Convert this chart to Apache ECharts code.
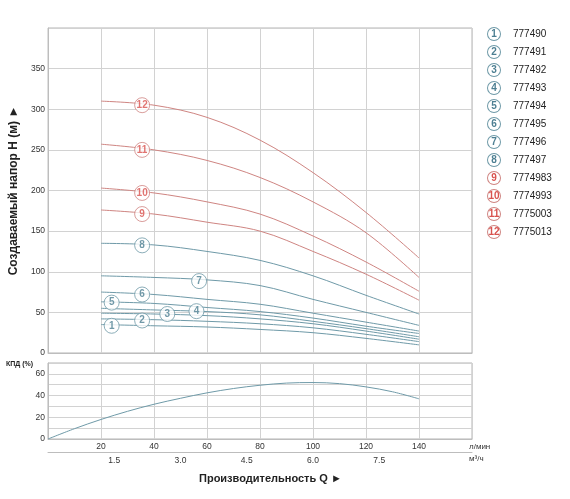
<!DOCTYPE html>
<html>
<head>
<meta charset="utf-8">
<script src="https://cdn.jsdelivr.net/npm/echarts@6/dist/echarts.min.js"></script>
<style>
html,body{margin:0;padding:0;background:#fff;}
#chart{width:570px;height:499px;}
</style>
</head>
<body>
<div id="chart"></div>
<script>
// ---- data ----
const flowPoints = [20, 40, 60, 80, 100, 120, 140];
const pumpCodes = ['777490','777491','777492','777493','777494','777495','777496','777497','7774983','7774993','7775003','7775013'];
const head1  = [35, 33.5, 32, 29, 25, 18, 10];
const head2  = [42, 41, 39, 36, 31, 23, 14];
const head3  = [49, 48, 46, 42, 36, 27, 17];
const head4  = [55, 53, 51, 47, 39, 30, 20];
const head5  = [63, 61, 56, 51, 43, 33, 24];
const head6  = [75, 72, 66, 60, 49, 38, 27];
const head7  = [95, 93, 90, 83, 66, 50, 34];
const head8  = [135, 133, 125, 114, 95, 71, 48];
const head9  = [176, 171, 161, 150, 125, 97, 65];
const head10 = [203, 197, 186, 171, 144, 112, 76];
const head11 = [257, 250, 237, 216, 186, 148, 93];
const head12 = [310, 305, 290, 262, 222, 173, 117];
const headCurves = [head1, head2, head3, head4, head5, head6, head7, head8, head9, head10, head11, head12];
const tagFlow = [24, 35.5, 45, 56, 24, 35.5, 57, 35.5, 35.5, 35.5, 35.5, 35.5];
const tagHead = [33.5, 40, 48, 51.5, 62, 72, 88.5, 132.5, 171, 197, 250, 305];
const effFlow = [0, 10, 20, 30, 40, 50, 60, 70, 80, 90, 100, 110, 120, 130, 140];
const effValue = [0, 9.5, 18, 25.5, 32, 37.5, 42.5, 46.5, 49.5, 51.5, 52, 51, 48, 43.5, 37];
const headTicks = [0, 50, 100, 150, 200, 250, 300, 350];
const effTicks = [0, 20, 40, 60];
const flowTicksLmin = [20, 40, 60, 80, 100, 120, 140];
const flowTicksM3h = ['1.5', '3.0', '4.5', '6.0', '7.5'];

// ---- styles ----
const BLUE = '#6f9aa8';
const RED = '#cf8582';
const BLUE_TXT = '#4d7f92';
const RED_TXT = '#d9534f';
const GRID = '#d2d2d2';
const FONT = 'Liberation Sans, Arial, sans-serif';
const TICKFONT = 'Liberation Sans Narrow, Liberation Sans, Arial, sans-serif';

const chart = echarts.init(document.getElementById('chart'), null, {renderer: 'canvas'});

const series = [];
headCurves.forEach((vals, i) => {
  series.push({
    name: pumpCodes[i],
    type: 'line',
    xAxisIndex: 0, yAxisIndex: 0,
    data: flowPoints.map((q, k) => [q, vals[k]]),
    smooth: 0.35,
    showSymbol: false,
    symbol: 'none',
    lineStyle: {width: 1, color: i < 8 ? BLUE : RED},
    itemStyle: {color: i < 8 ? BLUE : RED},
    z: 3,
    silent: true
  });
});
series.push({
  type: 'scatter',
  xAxisIndex: 0, yAxisIndex: 0,
  symbol: 'circle',
  symbolSize: 15,
  z: 5,
  silent: true,
  data: tagFlow.map((q, i) => ({
    value: [q, tagHead[i]],
    itemStyle: {color: '#fff', borderColor: i < 8 ? BLUE : RED, borderWidth: 1},
    label: {color: i < 8 ? BLUE_TXT : RED_TXT}
  })),
  label: {
    show: true, position: 'inside',
    fontSize: 10, fontWeight: 'bold', fontFamily: FONT,
    formatter: p => String(p.dataIndex + 1)
  }
});
series.push({
  type: 'line',
  xAxisIndex: 1, yAxisIndex: 1,
  data: effFlow.map((q, k) => [q, effValue[k]]),
  smooth: 0.35,
  showSymbol: false,
  symbol: 'none',
  lineStyle: {width: 1, color: BLUE},
  silent: true
});

const axisLabelBase = {fontSize: 8.5, color: '#333', fontFamily: TICKFONT};

const option = {
  animation: false,
  backgroundColor: '#fff',
  textStyle: {fontFamily: FONT},
  grid: [
    {left: 48, top: 28, width: 424, height: 325, show: true, borderColor: '#b5b5b5', borderWidth: 1, containLabel: false},
    {left: 48, top: 363, width: 424, height: 76, show: true, borderColor: '#b5b5b5', borderWidth: 1, containLabel: false}
  ],
  xAxis: [
    {type: 'value', gridIndex: 0, min: 0, max: 160, interval: 20,
     axisLabel: {show: false}, axisTick: {show: false},
     axisLine: {show: true, lineStyle: {color: '#bdbdbd'}},
     splitLine: {show: true, lineStyle: {color: GRID, width: 1}}},
    {type: 'value', gridIndex: 1, min: 0, max: 160, interval: 20,
     axisLabel: Object.assign({}, axisLabelBase, {margin: 3,
       formatter: v => flowTicksLmin.indexOf(v) >= 0 ? String(v) : ''}),
     axisTick: {show: false},
     axisLine: {show: true, lineStyle: {color: '#bdbdbd'}},
     splitLine: {show: true, lineStyle: {color: GRID, width: 1}}},
    {type: 'value', gridIndex: 1, min: 0, max: 9.6, interval: 1.5, position: 'bottom', offset: 13,
     axisLabel: Object.assign({}, axisLabelBase, {margin: 4,
       formatter: v => { const s = v.toFixed(1); return flowTicksM3h.indexOf(s) >= 0 ? s : ''; }}),
     axisTick: {show: false},
     axisLine: {show: true, lineStyle: {color: '#bdbdbd'}},
     splitLine: {show: false}}
  ],
  yAxis: [
    {type: 'value', gridIndex: 0, min: 0, max: 400, interval: 50,
     name: 'Создаваемый напор H (м) ►', nameLocation: 'middle', nameGap: 21,
     nameTextStyle: {fontSize: 12, fontWeight: 'bold', color: '#222', fontFamily: FONT},
     axisLabel: Object.assign({}, axisLabelBase, {margin: 3,
       formatter: v => headTicks.indexOf(v) >= 0 ? String(v) : ''}),
     axisTick: {show: false},
     axisLine: {show: true, lineStyle: {color: '#bdbdbd'}},
     splitLine: {show: true, lineStyle: {color: GRID, width: 1}}},
    {type: 'value', gridIndex: 1, min: 0, max: 70, interval: 10,
     axisLabel: Object.assign({}, axisLabelBase, {margin: 3,
       formatter: v => effTicks.indexOf(v) >= 0 ? String(v) : ''}),
     axisTick: {show: false},
     axisLine: {show: true, lineStyle: {color: '#bdbdbd'}},
     splitLine: {show: true, lineStyle: {color: GRID, width: 1}}}
  ],
  legend: {
    orient: 'vertical',
    left: 478, top: 22,
    itemGap: 4,
    itemWidth: 0, itemHeight: 13,
    selectedMode: false,
    data: pumpCodes.map(n => ({name: n, icon: 'none'})),
    formatter: name => {
      const i = pumpCodes.indexOf(name);
      return '{' + (i < 8 ? 'cb' : 'cr') + '|' + (i + 1) + '}{t|' + name + '}';
    },
    textStyle: {
      fontFamily: FONT,
      rich: {
        cb: {width: 12, height: 12, lineHeight: 12, align: 'center', borderRadius: 7, borderWidth: 1, borderColor: BLUE, color: BLUE_TXT, fontSize: 10, fontWeight: 'bold', backgroundColor: '#fff'},
        cr: {width: 12, height: 12, lineHeight: 12, align: 'center', borderRadius: 7, borderWidth: 1, borderColor: RED, color: RED_TXT, fontSize: 10, fontWeight: 'bold', backgroundColor: '#fff'},
        t: {fontSize: 10, color: '#222', padding: [0, 0, 0, 13]}
      }
    }
  },
  graphic: [
    {type: 'text', left: 6, top: 361, style: {text: 'КПД (%)', fontSize: 7, fontWeight: 'bold', fill: '#222', fontFamily: FONT}},
    {type: 'text', left: 469, top: 443, style: {text: 'л/мин', fontSize: 8, fill: '#333', fontFamily: FONT}},
    {type: 'text', left: 469, top: 455, style: {text: 'м³/ч', fontSize: 8, fill: '#333', fontFamily: FONT}},
    {type: 'text', left: 199, top: 473, style: {text: 'Производительность Q ►', fontSize: 11, fontWeight: 'bold', fill: '#222', fontFamily: FONT}}
  ],
  series: series
};
chart.setOption(option);
</script>
</body>
</html>
